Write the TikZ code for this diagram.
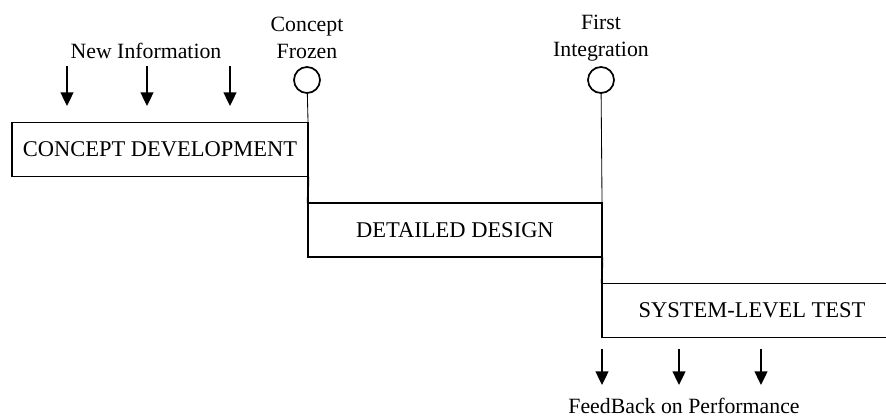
\documentclass[tikz,border=0pt]{standalone}
\usepackage{fontspec}
\setmainfont{Liberation Serif}
\usepackage{tikz}
\usetikzlibrary{arrows.meta,positioning}

\begin{document}
\begin{tikzpicture}[
  x=0.025cm, y=-0.025cm,
  stage/.style={draw, line width=1.4pt, inner sep=0pt, outer sep=0pt,
                minimum height=1.35cm, align=center,
                font=\fontsize{16}{19}\selectfont},
  milestone/.style={draw, circle, line width=1.2pt, minimum size=0.65cm,
                    inner sep=0pt, outer sep=0pt},
  lbl/.style={align=center, inner sep=0pt, font=\fontsize{15.5}{19}\selectfont},
  stair/.style={line width=1.4pt},
  tick/.style={line width=0.6pt},
  info/.style={line width=1.2pt, -{Triangle[length=3.4mm, width=3.2mm]}}
]
\clip (0,0) rectangle (886,420);

\node[stage, minimum width=7.4cm] (concept) at (160,149.5) {CONCEPT DEVELOPMENT};
\node[stage, minimum width=7.35cm] (detail) at (455,230) {DETAILED DESIGN};
\node[stage, minimum width=7.5cm] (systest) at (752,310.5) {SYSTEM-LEVEL TEST};

\node[milestone] (frozen) at (307,80) {};
\node[milestone] (integ) at (601,80) {};
\node[lbl] (frozenlbl) at (307,38) {Concept\\Frozen};
\node[lbl] (integlbl) at (601,38) {First\\Integration};
\node[lbl] (newinfo) at (146,51) {New Information};
\node[lbl] (feedback) at (684,406) {FeedBack on Performance};

\coordinate (in1) at (67,66);   \coordinate (in1e) at (67,106);
\coordinate (in2) at (147,66);  \coordinate (in2e) at (147,106);
\coordinate (in3) at (230,66);  \coordinate (in3e) at (230,106);
\coordinate (fb1) at (602,349); \coordinate (fb1e) at (602,385);
\coordinate (fb2) at (679,349); \coordinate (fb2e) at (679,385);
\coordinate (fb3) at (761,349); \coordinate (fb3e) at (761,385);

\draw[stair] (concept.south east) -- (detail.north west);
\draw[stair] (detail.south east) -- (systest.north west);
\draw[tick] (frozen) -- (concept.north east);
\draw[tick] (integ) -- (detail.north east);

\draw[info] (in1) -- (in1e);
\draw[info] (in2) -- (in2e);
\draw[info] (in3) -- (in3e);
\draw[info] (fb1) -- (fb1e);
\draw[info] (fb2) -- (fb2e);
\draw[info] (fb3) -- (fb3e);
\end{tikzpicture}
\end{document}
